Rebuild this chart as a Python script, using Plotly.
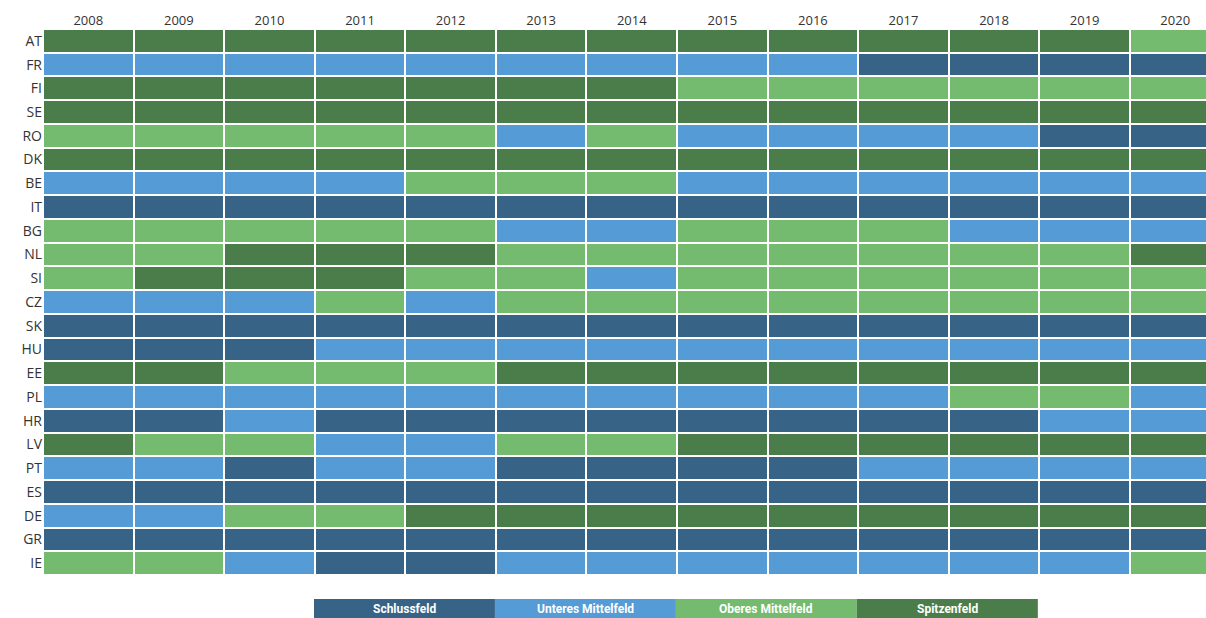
import plotly.graph_objects as go

years = ["2008", "2009", "2010", "2011", "2012", "2013", "2014",
         "2015", "2016", "2017", "2018", "2019", "2020"]
countries = ["AT", "FR", "FI", "SE", "RO", "DK", "BE", "IT", "BG", "NL", "SI", "CZ",
             "SK", "HU", "EE", "PL", "HR", "LV", "PT", "ES", "DE", "GR", "IE"]
category_names = ["Schlussfeld", "Unteres Mittelfeld", "Oberes Mittelfeld", "Spitzenfeld"]
category_colors = ["#376387", "#559bd5", "#74bb6f", "#4a7d49"]

# 1 = Schlussfeld, 2 = Unteres Mittelfeld, 3 = Oberes Mittelfeld, 4 = Spitzenfeld
AT = [4, 4, 4, 4, 4, 4, 4, 4, 4, 4, 4, 4, 3]
FR = [2, 2, 2, 2, 2, 2, 2, 2, 2, 1, 1, 1, 1]
FI = [4, 4, 4, 4, 4, 4, 4, 3, 3, 3, 3, 3, 3]
SE = [4, 4, 4, 4, 4, 4, 4, 4, 4, 4, 4, 4, 4]
RO = [3, 3, 3, 3, 3, 2, 3, 2, 2, 2, 2, 1, 1]
DK = [4, 4, 4, 4, 4, 4, 4, 4, 4, 4, 4, 4, 4]
BE = [2, 2, 2, 2, 3, 3, 3, 2, 2, 2, 2, 2, 2]
IT = [1, 1, 1, 1, 1, 1, 1, 1, 1, 1, 1, 1, 1]
BG = [3, 3, 3, 3, 3, 2, 2, 3, 3, 3, 2, 2, 2]
NL = [3, 3, 4, 4, 4, 3, 3, 3, 3, 3, 3, 3, 4]
SI = [3, 4, 4, 4, 3, 3, 2, 3, 3, 3, 3, 3, 3]
CZ = [2, 2, 2, 3, 2, 3, 3, 3, 3, 3, 3, 3, 3]
SK = [1, 1, 1, 1, 1, 1, 1, 1, 1, 1, 1, 1, 1]
HU = [1, 1, 1, 2, 2, 2, 2, 2, 2, 2, 2, 2, 2]
EE = [4, 4, 3, 3, 3, 4, 4, 4, 4, 4, 4, 4, 4]
PL = [2, 2, 2, 2, 2, 2, 2, 2, 2, 2, 3, 3, 2]
HR = [1, 1, 2, 1, 1, 1, 1, 1, 1, 1, 1, 2, 2]
LV = [4, 3, 3, 2, 2, 3, 3, 4, 4, 4, 4, 4, 4]
PT = [2, 2, 1, 2, 2, 1, 1, 1, 1, 2, 2, 2, 2]
ES = [1, 1, 1, 1, 1, 1, 1, 1, 1, 1, 1, 1, 1]
DE = [2, 2, 3, 3, 4, 4, 4, 4, 4, 4, 4, 4, 4]
GR = [1, 1, 1, 1, 1, 1, 1, 1, 1, 1, 1, 1, 1]
IE = [3, 3, 2, 1, 1, 2, 2, 2, 2, 2, 2, 2, 3]

z = [AT, FR, FI, SE, RO, DK, BE, IT, BG, NL, SI, CZ,
     SK, HU, EE, PL, HR, LV, PT, ES, DE, GR, IE]
text = [[category_names[v - 1] for v in row] for row in z]

n = len(category_colors)
colorscale = []
for i, c in enumerate(category_colors):
    colorscale.append([i / n, c])
    colorscale.append([(i + 1) / n, c])

fig = go.Figure(go.Heatmap(
    z=z, x=years, y=countries, text=text,
    colorscale=colorscale, zmin=0.5, zmax=n + 0.5, showscale=False,
    xgap=2, ygap=2,
    hovertemplate="%{y} %{x}: %{text}<extra></extra>",
))

# Legend as coloured boxes under the plot
L_X0, L_W = 0.233, 0.1556
for i, (name, col) in enumerate(zip(category_names, category_colors)):
    x0 = L_X0 + i * L_W
    fig.add_shape(type="rect", xref="paper", yref="paper",
                  x0=x0, x1=x0 + L_W, y0=-0.09, y1=-0.044,
                  fillcolor=col, line=dict(width=0), layer="above")
    fig.add_annotation(xref="paper", yref="paper", x=x0 + L_W / 2, y=-0.063,
                       text="<b>" + name + "</b>", showarrow=False,
                       font=dict(color="white", size=12,
                                 family="Liberation Sans Narrow, Roboto, sans-serif"),
                       xanchor="center", yanchor="middle")

fig.update_layout(
    width=1206, height=618,
    margin=dict(l=43, r=0, t=29, b=43),
    paper_bgcolor="white", plot_bgcolor="white",
    font=dict(family="Open Sans, sans-serif", size=13, color="#333333"),
    xaxis=dict(side="top", range=[-0.5, 12.34], showgrid=False, zeroline=False,
               ticks="", automargin=False, tickfont=dict(size=13, color="#333333")),
    yaxis=dict(autorange="reversed", showgrid=False, zeroline=False, ticks="",
               automargin=False, tickfont=dict(size=14, color="#333333")),
)

fig.write_html(
    "out.html",
    config={"displayModeBar": False},
    post_script="document.body.style.margin='0';document.body.style.overflow='hidden';",
)
